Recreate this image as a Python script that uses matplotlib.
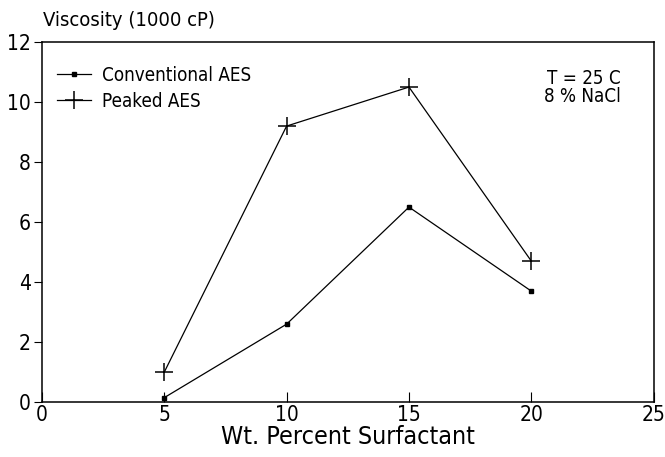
import numpy as np
import pandas as pd
import matplotlib
matplotlib.use('Agg')
import matplotlib.pyplot as plt

plt.rcParams['font.family'] = ['DejaVu Sans']
plt.rcParams['font.stretch'] = 'condensed'

surfactant = [5, 10, 15, 20]
conventional = [0.15, 2.6, 6.5, 3.7]
peaked = [1.0, 9.2, 10.5, 4.7]


def viscosity_plot():
    fig = plt.figure(figsize=(6.65, 4.57), dpi=100)
    ax = fig.add_axes([0.063, 0.12, 0.92, 0.788])
    ax.plot(surfactant, conventional, color='black', lw=0.9, marker='s', ms=3.5,
            label='Conventional AES')
    ax.plot(surfactant, peaked, color='black', lw=0.9, marker='+', ms=13, mew=1.1,
            label='Peaked AES')
    ax.set_xlim(0, 25)
    ax.set_ylim(0, 12)
    ax.set_xticks([0, 5, 10, 15, 20, 25])
    ax.set_yticks([0, 2, 4, 6, 8, 10, 12])
    ax.tick_params(axis='x', direction='in', length=7, labelsize=15, pad=2)
    ax.tick_params(axis='y', direction='out', length=6, labelsize=15, pad=2)
    for s in ax.spines.values():
        s.set_linewidth(1.1)
    ax.set_xlabel('Wt. Percent Surfactant', fontsize=18, labelpad=0)
    fig.text(0.064, 0.935, 'Viscosity (1000 cP)', fontsize=14.5, ha='left', va='bottom')
    ax.text(0.946, 0.925, 'T = 25 C\n8 % NaCl', transform=ax.transAxes, fontsize=13.5,
            ha='right', va='top', linespacing=0.95)
    ax.legend(loc='upper left', frameon=False, fontsize=13.5, handlelength=1.8,
              borderaxespad=0.4, handletextpad=0.6, labelspacing=0.35,
              bbox_to_anchor=(0.0, 0.975))
    plt.savefig('out.png', dpi=100)


if __name__ == "__main__":
    viscosity_plot()
